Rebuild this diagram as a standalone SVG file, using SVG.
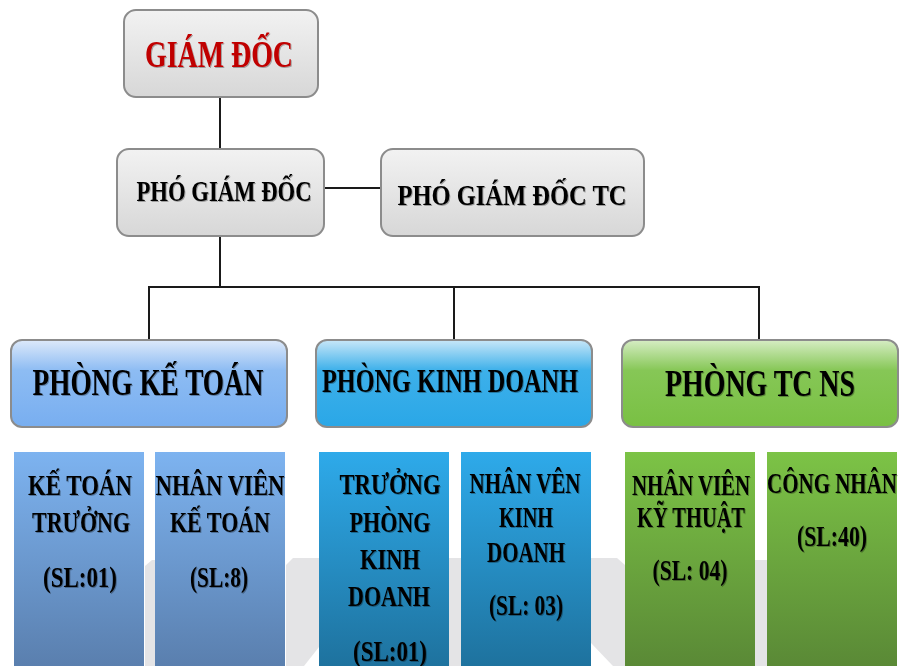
<svg xmlns="http://www.w3.org/2000/svg" width="902" height="666" viewBox="0 0 902 666">
<defs>
<linearGradient id="gGray" x1="0" y1="0" x2="0" y2="1">
<stop offset="0" stop-color="#f2f2f2"/><stop offset="1" stop-color="#d7d7d7"/>
</linearGradient>
<linearGradient id="gBlue" x1="0" y1="0" x2="0" y2="1">
<stop offset="0" stop-color="#dde9fa"/><stop offset="0.35" stop-color="#8dbcf3"/><stop offset="1" stop-color="#78aef0"/>
</linearGradient>
<linearGradient id="gCyan" x1="0" y1="0" x2="0" y2="1">
<stop offset="0" stop-color="#c8e7f8"/><stop offset="0.35" stop-color="#3db0ea"/><stop offset="1" stop-color="#2aa7e7"/>
</linearGradient>
<linearGradient id="gGreen" x1="0" y1="0" x2="0" y2="1">
<stop offset="0" stop-color="#d6edc4"/><stop offset="0.35" stop-color="#86c756"/><stop offset="1" stop-color="#79c043"/>
</linearGradient>
<linearGradient id="cBlue" x1="0" y1="0" x2="0" y2="1">
<stop offset="0" stop-color="#7db3f0"/><stop offset="1" stop-color="#5a7fae"/>
</linearGradient>
<linearGradient id="cCyan" x1="0" y1="0" x2="0" y2="1">
<stop offset="0" stop-color="#2eaaea"/><stop offset="1" stop-color="#1e729e"/>
</linearGradient>
<linearGradient id="cGreen" x1="0" y1="0" x2="0" y2="1">
<stop offset="0" stop-color="#7cc346"/><stop offset="1" stop-color="#5a8936"/>
</linearGradient>
<filter id="sh" x="-5%" y="-20%" width="110%" height="140%">
<feDropShadow dx="1" dy="1" stdDeviation="0.6" flood-color="#000" flood-opacity="0.3"/>
</filter>
</defs>
<style>
.box{stroke:#8c8c8c;stroke-width:2}
.t{font-family:"Liberation Serif","Times New Roman",serif;font-weight:bold;fill:#000;text-anchor:middle}
.c{font-size:29px}
.ln{stroke:#1a1a1a;stroke-width:2;fill:none}
.bg{fill:#e4e4e6}
</style>

<g id="background">
<polygon class="bg" points="145,566 152,560 155,560 155,666 145,666"/>
<polygon class="bg" points="286,565 293,558 319,558 319,647 304,666 286,666"/>
<polygon class="bg" points="449,558 461,558 461,666 449,666"/>
<polygon class="bg" points="591,558 617,558 625,565 625,666 613,666 591,643"/>
<polygon class="bg" points="755,560 767,560 767,666 755,666"/>
</g>

<g id="connectors">
<line class="ln" x1="220" y1="97" x2="220" y2="150"/>
<line class="ln" x1="324" y1="188" x2="381" y2="188"/>
<line class="ln" x1="220" y1="236" x2="220" y2="287"/>
<line class="ln" x1="148" y1="287" x2="760" y2="287"/>
<line class="ln" x1="149" y1="287" x2="149" y2="340"/>
<line class="ln" x1="454" y1="287" x2="454" y2="340"/>
<line class="ln" x1="759" y1="287" x2="759" y2="340"/>
</g>

<g id="giam-doc">
<rect class="box" x="124" y="10" width="194" height="87" rx="12" fill="url(#gGray)"/>
<text class="t" x="219" y="67" font-size="38" style="fill:#c00000" textLength="148" lengthAdjust="spacingAndGlyphs" filter="url(#sh)">GIÁM ĐỐC</text>
</g>

<g id="pho-giam-doc">
<rect class="box" x="117" y="149" width="207" height="87" rx="12" fill="url(#gGray)"/>
<text class="t" x="224" y="201" font-size="30" textLength="175" lengthAdjust="spacingAndGlyphs" filter="url(#sh)">PHÓ GIÁM ĐỐC</text>
</g>

<g id="pho-giam-doc-tc">
<rect class="box" x="381" y="149" width="263" height="87" rx="12" fill="url(#gGray)"/>
<text class="t" x="512" y="205" font-size="30" textLength="229" lengthAdjust="spacingAndGlyphs" filter="url(#sh)">PHÓ GIÁM ĐỐC TC</text>
</g>

<g id="phong-ke-toan">
<rect class="box" x="11" y="340" width="276" height="87" rx="11" fill="url(#gBlue)"/>
<text class="t" x="148" y="395" font-size="38" textLength="231" lengthAdjust="spacingAndGlyphs" filter="url(#sh)">PHÒNG KẾ TOÁN</text>
</g>

<g id="phong-kinh-doanh">
<rect class="box" x="316" y="340" width="276" height="87" rx="11" fill="url(#gCyan)"/>
<text class="t" x="450" y="392" font-size="34" textLength="256" lengthAdjust="spacingAndGlyphs" filter="url(#sh)">PHÒNG KINH DOANH</text>
</g>

<g id="phong-tc-ns">
<rect class="box" x="622" y="340" width="276" height="87" rx="11" fill="url(#gGreen)"/>
<text class="t" x="760" y="396" font-size="38" textLength="190" lengthAdjust="spacingAndGlyphs" filter="url(#sh)">PHÒNG TC NS</text>
</g>

<g id="ke-toan-truong">
<rect x="14" y="452" width="130" height="214" fill="url(#cBlue)"/>
<text class="t c" x="80" y="495" textLength="104" lengthAdjust="spacingAndGlyphs" filter="url(#sh)">KẾ TOÁN</text>
<text class="t c" x="81" y="532" textLength="98" lengthAdjust="spacingAndGlyphs" filter="url(#sh)">TRƯỞNG</text>
<text class="t c" x="80" y="587" textLength="74" lengthAdjust="spacingAndGlyphs" filter="url(#sh)">(SL:01)</text>
</g>

<g id="nhan-vien-ke-toan">
<rect x="155" y="452" width="130" height="214" fill="url(#cBlue)"/>
<text class="t c" x="220" y="495" textLength="129" lengthAdjust="spacingAndGlyphs" filter="url(#sh)">NHÂN VIÊN</text>
<text class="t c" x="220" y="532" textLength="100" lengthAdjust="spacingAndGlyphs" filter="url(#sh)">KẾ TOÁN</text>
<text class="t c" x="219" y="587" textLength="58" lengthAdjust="spacingAndGlyphs" filter="url(#sh)">(SL:8)</text>
</g>

<g id="truong-phong-kinh-doanh">
<rect x="319" y="452" width="130" height="214" fill="url(#cCyan)"/>
<text class="t c" x="390" y="494" textLength="101" lengthAdjust="spacingAndGlyphs" filter="url(#sh)">TRƯỞNG</text>
<text class="t c" x="390" y="532" textLength="81" lengthAdjust="spacingAndGlyphs" filter="url(#sh)">PHÒNG</text>
<text class="t c" x="390" y="569" textLength="60" lengthAdjust="spacingAndGlyphs" filter="url(#sh)">KINH</text>
<text class="t c" x="389" y="606" textLength="82" lengthAdjust="spacingAndGlyphs" filter="url(#sh)">DOANH</text>
<text class="t c" x="390" y="661" textLength="74" lengthAdjust="spacingAndGlyphs" filter="url(#sh)">(SL:01)</text>
</g>

<g id="nhan-vien-kinh-doanh">
<rect x="461" y="452" width="130" height="214" fill="url(#cCyan)"/>
<text class="t c" x="525" y="493" textLength="111" lengthAdjust="spacingAndGlyphs" filter="url(#sh)">NHÂN VÊN</text>
<text class="t c" x="526" y="527" textLength="54" lengthAdjust="spacingAndGlyphs" filter="url(#sh)">KINH</text>
<text class="t c" x="526" y="562" textLength="78" lengthAdjust="spacingAndGlyphs" filter="url(#sh)">DOANH</text>
<text class="t c" x="526" y="615" textLength="74" lengthAdjust="spacingAndGlyphs" filter="url(#sh)">(SL: 03)</text>
</g>

<g id="nhan-vien-ky-thuat">
<rect x="625" y="452" width="130" height="214" fill="url(#cGreen)"/>
<text class="t c" x="691" y="495" textLength="118" lengthAdjust="spacingAndGlyphs" filter="url(#sh)">NHÂN VIÊN</text>
<text class="t c" x="691" y="527" textLength="108" lengthAdjust="spacingAndGlyphs" filter="url(#sh)">KỸ THUẬT</text>
<text class="t c" x="690" y="580" textLength="75" lengthAdjust="spacingAndGlyphs" filter="url(#sh)">(SL: 04)</text>
</g>

<g id="cong-nhan">
<rect x="767" y="452" width="130" height="214" fill="url(#cGreen)"/>
<text class="t c" x="832" y="493" textLength="130" lengthAdjust="spacingAndGlyphs" filter="url(#sh)">CÔNG NHÂN</text>
<text class="t c" x="832" y="546" textLength="70" lengthAdjust="spacingAndGlyphs" filter="url(#sh)">(SL:40)</text>
</g>
</svg>
